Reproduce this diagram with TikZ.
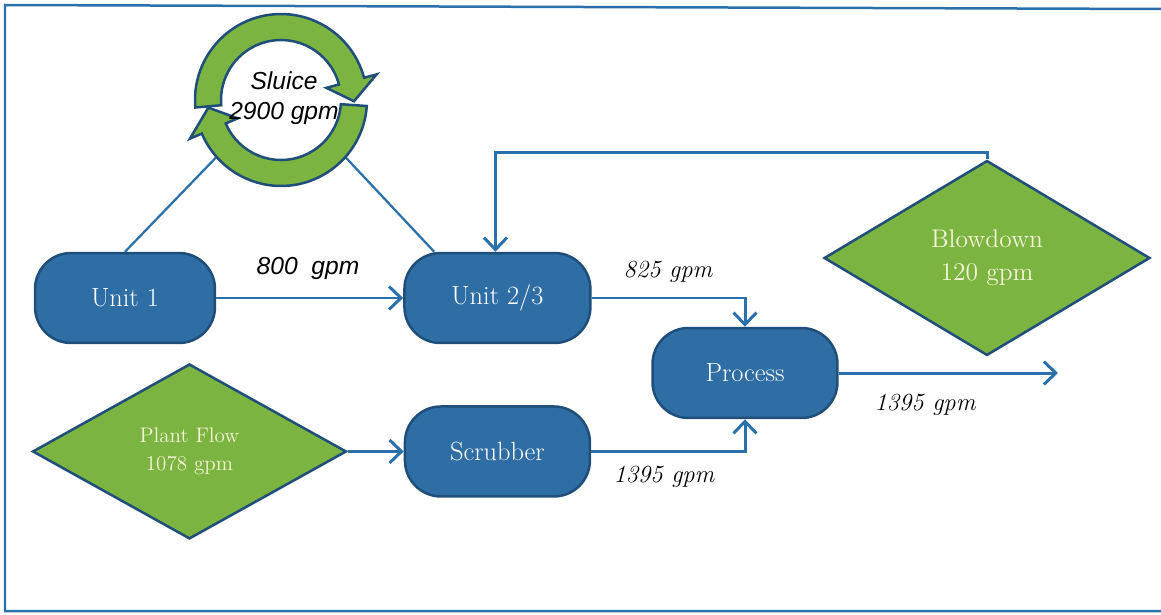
\documentclass[tikz,border=0pt]{standalone}
\usepackage{fontspec}
\newfontfamily\labelsans{Liberation Sans}
\usetikzlibrary{arrows.meta, positioning, calc, shapes.geometric, backgrounds}

\definecolor{unitblue}{RGB}{46,110,165}
\definecolor{edgeblue}{RGB}{30,78,121}
\definecolor{flowblue}{RGB}{42,112,170}
\definecolor{leafgreen}{RGB}{124,180,66}
\definecolor{cream}{RGB}{245,245,215}

\begin{document}
\begin{tikzpicture}[
    x=0.02cm, y=-0.02cm,
    unit/.style     = {rectangle, draw=edgeblue, fill=unitblue, line width=0.05cm,
                       rounded corners=0.72cm, minimum width=3.6cm, minimum height=1.8cm,
                       text=white, font=\fontsize{15}{17}\selectfont, inner sep=2pt},
    source/.style   = {diamond, draw=edgeblue, fill=leafgreen, line width=0.05cm,
                       inner sep=0pt, text=cream, align=center},
    flow/.style     = {-{Straight Barb[length=2.4mm, width=4.6mm]}, line width=0.06cm, flowblue},
    tie/.style      = {line width=0.045cm, flowblue},
    rate/.style     = {font=\fontsize{14}{17}\selectfont\itshape},
    ratesans/.style = {font=\labelsans\itshape\fontsize{14}{17}\selectfont},
    ringarr/.style  = {draw=edgeblue, fill=leafgreen, line width=0.05cm, line join=miter},
    frame/.style    = {line width=0.05cm, flowblue},
]
\useasboundingbox (0,0) rectangle (1161,615);

%% ---- Frame ----
\draw[frame] (1161,9) -- (5,5) -- (5,611) -- (1161,611);

%% ---- Units ----
\node[unit] (unit1) at (125,298) {Unit 1};
\node[unit, right=3.74cm of unit1, minimum width=3.72cm] (unit23) {Unit 2/3};
\node[unit, below=1.22cm of unit23, minimum width=3.7cm] (scrubber) {Scrubber};
\node[unit, minimum width=3.7cm] (process) at (745,373) {Process};

%% ---- Sources ----
\node[source, left=1.12cm of scrubber, minimum width=6.28cm, minimum height=3.5cm,
      font=\fontsize{12}{16}\selectfont] (plant) {Plant Flow\\1078 gpm};
\node[source, minimum width=6.52cm, minimum height=3.9cm,
      font=\fontsize{14.5}{19}\selectfont] (blowdown) at (987,258) {Blowdown\\120 gpm};

%% ---- Sluice loop ----
\begin{scope}[shift={(281,100)}, x=0.02cm, y=0.02cm]
    \coordinate (ringsw) at (-139:78);
    \coordinate (ringse) at (-41:78);
    \path[ringarr] (185:86) arc[start angle=185, end angle=15, radius=1.72cm]
        -- (15:99) -- (-1:73) -- (15:47) -- (15:60)
        arc[start angle=15, end angle=185, radius=1.2cm] -- cycle;
    \path[ringarr] (-4:86) arc[start angle=-4, end angle=-157, radius=1.72cm]
        -- (-157:99) -- (-174:73) -- (-157:47) -- (-157:60)
        arc[start angle=-157, end angle=-4, radius=1.2cm] -- cycle;
    \node[ratesans, align=center] (sluice) at (3,2) {Sluice\\2900 gpm};
\end{scope}

\begin{scope}[on background layer]
    \draw[tie] (unit1.north) -- (ringsw);
    \draw[tie] ([xshift=0.62cm]unit23.north west) -- (ringse);
\end{scope}

%% ---- Flows ----
\coordinate (outlet) at (1058,373);
\coordinate (bdturn) at (987,153);
\draw[flow] (unit1) -- (unit23);
\draw[flow] (unit23.east) -| (process.north);
\draw[flow] (scrubber.east) -| (process.south);
\draw[flow] (plant) -- (scrubber);
\draw[flow] (process) -- (outlet);
\draw[flow] (blowdown.north) -- (bdturn) -| ([xshift=-0.04cm]unit23.north);

%% ---- Rates ----
\node[ratesans] (lbl800) at (308,268) {800\ \ gpm};
\node[rate] (lbl825) at (668,272) {825 gpm};
\node[rate] (lblscrub) at (664,477) {1395 gpm};
\node[rate] (lblout) at (925,405) {1395 gpm};

\end{tikzpicture}
\end{document}
